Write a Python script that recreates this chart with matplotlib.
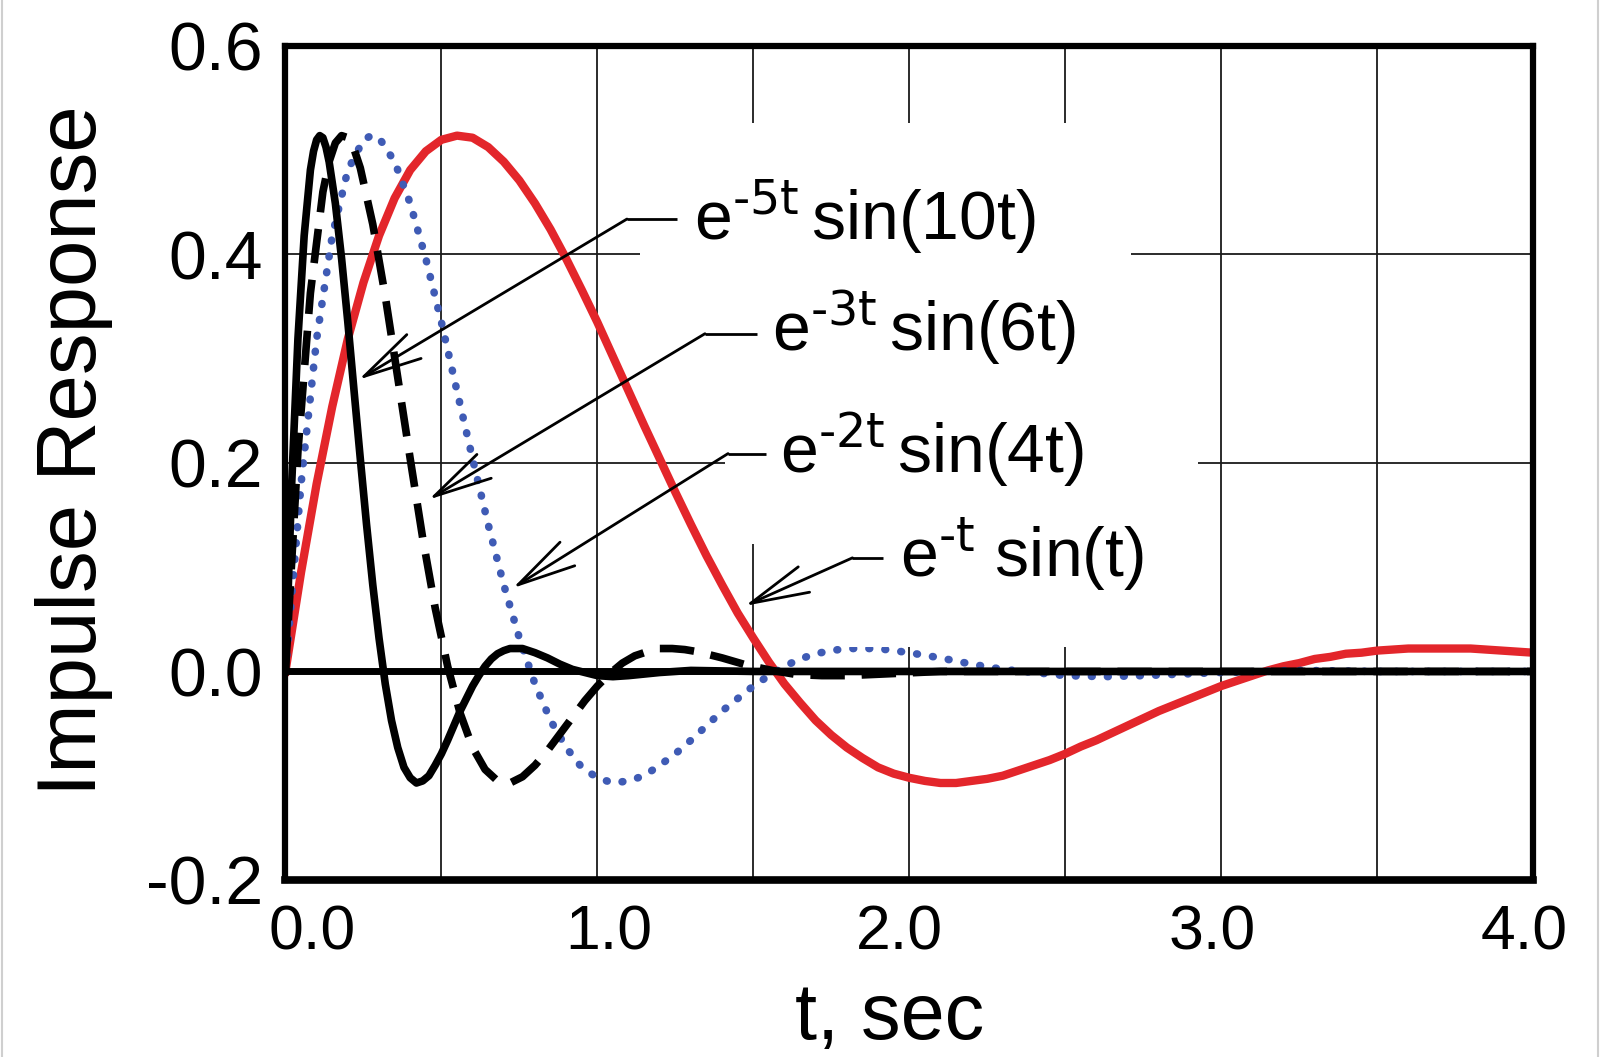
import matplotlib
matplotlib.use('Agg')
import matplotlib.pyplot as plt
from matplotlib.lines import Line2D
from matplotlib.transforms import ScaledTranslation

plt.rcParams['font.family'] = ['Liberation Sans', 'DejaVu Sans']
plt.rcParams['mathtext.default'] = 'regular'
plt.rcParams['axes.unicode_minus'] = False

# values
t_solid = [0.00, 0.02, 0.04, 0.06, 0.08, 0.09, 0.10, 0.11, 0.12, 0.13, 0.14, 0.16, 0.18, 0.20,
           0.22, 0.24, 0.26, 0.28, 0.30, 0.32, 0.34, 0.36, 0.38, 0.40,
           0.42, 0.44, 0.46, 0.48, 0.50, 0.52, 0.54, 0.56, 0.58, 0.60,
           0.62, 0.64, 0.66, 0.68, 0.70, 0.72, 0.74, 0.76, 0.78, 0.80,
           0.84, 0.88, 0.92, 0.96, 1.00, 1.05, 1.10, 1.20, 1.30, 1.50,
           2.00, 3.00, 4.00]
y_solid = [0.000, 0.180, 0.319, 0.418, 0.481, 0.499, 0.510, 0.514, 0.512, 0.503, 0.489, 0.449, 0.396, 0.335,
           0.269, 0.204, 0.141, 0.083, 0.032, -0.012, -0.047, -0.073, -0.092, -0.102,
           -0.107, -0.105, -0.100, -0.090, -0.079, -0.066, -0.052, -0.038, -0.026, -0.014,
           -0.004, 0.005, 0.012, 0.017, 0.020, 0.022, 0.022, 0.022, 0.020, 0.018,
           0.013, 0.007, 0.002, -0.001, -0.004, -0.005, -0.004, -0.001, 0.001, 0.000,
           0.000, 0.000, 0.000]

t_dash = [0.00, 0.04, 0.08, 0.12, 0.14, 0.16, 0.18, 0.20, 0.22, 0.24, 0.28, 0.32, 0.36, 0.40,
          0.44, 0.48, 0.52, 0.56, 0.60, 0.64, 0.68, 0.72, 0.76, 0.80,
          0.84, 0.88, 0.92, 0.96, 1.00, 1.04, 1.08, 1.12, 1.16, 1.20,
          1.24, 1.28, 1.32, 1.36, 1.40, 1.48, 1.56, 1.64, 1.72, 1.80,
          1.95, 2.10, 2.50, 3.00, 4.00]
y_dash = [0.000, 0.211, 0.363, 0.460, 0.489, 0.507, 0.514, 0.512, 0.501, 0.483, 0.429, 0.360, 0.282, 0.204,
          0.128, 0.061, 0.005, -0.040, -0.073, -0.094, -0.105, -0.107, -0.101, -0.090,
          -0.076, -0.060, -0.044, -0.028, -0.014, -0.002, 0.008, 0.015, 0.019, 0.022,
          0.022, 0.021, 0.019, 0.016, 0.013, 0.006, 0.001, -0.003, -0.004, -0.004,
          -0.002, 0.000, 0.000, 0.000, 0.000]

t_dot = [0.00, 0.05, 0.10, 0.15, 0.20, 0.25, 0.275, 0.30, 0.35, 0.40, 0.45, 0.50,
         0.55, 0.60, 0.65, 0.70, 0.75, 0.80, 0.85, 0.90, 0.95, 1.00,
         1.05, 1.10, 1.15, 1.20, 1.25, 1.30, 1.35, 1.40, 1.45, 1.50,
         1.55, 1.60, 1.65, 1.70, 1.75, 1.80, 1.85, 1.90, 1.95, 2.00,
         2.10, 2.20, 2.30, 2.40, 2.50, 2.625, 2.75, 3.00, 3.25, 3.50, 4.00]
y_dot = [0.000, 0.180, 0.319, 0.418, 0.481, 0.510, 0.514, 0.512, 0.489, 0.449, 0.396, 0.335,
         0.269, 0.204, 0.141, 0.083, 0.032, -0.012, -0.047, -0.073, -0.092, -0.102,
         -0.107, -0.105, -0.100, -0.090, -0.079, -0.066, -0.052, -0.038, -0.026, -0.014,
         -0.004, 0.005, 0.012, 0.017, 0.020, 0.022, 0.022, 0.022, 0.020, 0.018,
         0.013, 0.007, 0.002, -0.001, -0.004, -0.005, -0.004, -0.001, 0.001, 0.000, 0.000]

t_red = [0.00, 0.05, 0.10, 0.15, 0.20, 0.25, 0.30, 0.35, 0.40, 0.45,
         0.50, 0.55, 0.60, 0.65, 0.70, 0.75, 0.80, 0.85, 0.90, 0.95,
         1.00, 1.05, 1.10, 1.15, 1.20, 1.25, 1.30, 1.35, 1.40, 1.45,
         1.50, 1.55, 1.60, 1.65, 1.70, 1.75, 1.80, 1.85, 1.90, 1.95,
         2.00, 2.05, 2.10, 2.15, 2.20, 2.25, 2.30, 2.35, 2.40, 2.45,
         2.50, 2.55, 2.60, 2.65, 2.70, 2.75, 2.80, 2.85, 2.90, 2.95,
         3.00, 3.05, 3.10, 3.15, 3.20, 3.25, 3.30, 3.35, 3.40, 3.45,
         3.50, 3.55, 3.60, 3.65, 3.70, 3.75, 3.80, 3.85, 3.90, 3.95, 4.00]
y_red = [0.000, 0.095, 0.180, 0.254, 0.319, 0.373, 0.418, 0.454, 0.481, 0.499,
         0.510, 0.514, 0.512, 0.503, 0.489, 0.471, 0.449, 0.424, 0.396, 0.366,
         0.335, 0.302, 0.269, 0.236, 0.204, 0.172, 0.141, 0.111, 0.083, 0.056,
         0.032, 0.009, -0.012, -0.030, -0.047, -0.061, -0.073, -0.083, -0.092, -0.098,
         -0.102, -0.105, -0.107, -0.107, -0.105, -0.103, -0.100, -0.095, -0.090, -0.085,
         -0.079, -0.072, -0.066, -0.059, -0.052, -0.045, -0.038, -0.032, -0.026, -0.020,
         -0.014, -0.009, -0.004, 0.001, 0.005, 0.008, 0.012, 0.014, 0.017, 0.018,
         0.020, 0.021, 0.022, 0.022, 0.022, 0.022, 0.022, 0.021, 0.020, 0.019, 0.018]

x_ticks = [0, 1, 2, 3, 4]
x_labels = ['0.0', '1.0', '2.0', '3.0', '4.0']
x_label_shift = [19, 8, -7, -6.5, -6.5]   # points, labels sit a little off their ticks
x_minor = [0.5, 1.5, 2.5, 3.5]
y_ticks = [-0.2, 0.0, 0.2, 0.4, 0.6]
y_labels = ['-0.2', '0.0', '0.2', '0.4', '0.6']

labels = [r'e$^{\text{-5t}}\,$sin(10t)', r'e$^{\text{-3t}}\,$sin(6t)',
          r'e$^{\text{-2t}}\,$sin(4t)', r'e$^{\text{-t}}$ sin(t)']
# text start, leader corner, end of horizontal stub, arrow tip
label_pos = [(1.31, 0.414), (1.56, 0.307), (1.585, 0.190), (1.97, 0.091)]
corners = [(1.095, 0.434), (1.345, 0.324), (1.419, 0.209), (1.818, 0.109)]
stub_end = [1.255, 1.512, 1.541, 1.916]
tips = [(0.235, 0.28), (0.46, 0.165), (0.729, 0.08), (1.474, 0.063)]

fig = plt.figure(figsize=(16.1, 10.57), dpi=100)
ax = fig.add_axes([0.1773, 0.1675, 0.7749, 0.789])

ax.plot(t_red, y_red, color='#e3262b', lw=6, zorder=2)
ax.plot(t_dot, y_dot, color='#3f5bb5', lw=5.5, ls=(0, (0.1, 2.0)),
        dash_capstyle='round', zorder=2.1)
ax.axhline(0, color='k', lw=5, zorder=2.5)
ax.plot(t_dash, y_dash, color='k', lw=5.5, ls=(0, (4.5, 2.2)), zorder=2.6)
ax.plot(t_solid, y_solid, color='k', lw=5.5, zorder=2.7)

ax.set_xlim(0, 4)
ax.set_ylim(-0.2, 0.6)
ax.set_xticks(x_ticks)
ax.set_xticklabels(x_labels)
ax.set_xticks(x_minor, minor=True)
ax.set_yticks(y_ticks)
ax.set_yticklabels(y_labels)
ax.tick_params(which='both', length=0)
ax.tick_params(axis='x', pad=17, labelsize=45)
ax.tick_params(axis='y', pad=16, labelsize=49)
for lab, dx in zip(ax.get_xticklabels(), x_label_shift):
    lab.set_transform(lab.get_transform() + ScaledTranslation(dx / 72, 0, fig.dpi_scale_trans))
ax.set_axisbelow(True)
ax.grid(True, which='both', axis='x', color='#1a1a1a', lw=1.3)
ax.grid(True, which='major', axis='y', color='#1a1a1a', lw=1.3)
for s in ax.spines.values():
    s.set_linewidth(4.5)
ax.spines['bottom'].set_linewidth(5.5)

ax.set_ylabel('Impulse Response', fontsize=60)
ax.yaxis.set_label_coords(-0.138, 0.515)
ax.set_xlabel('t, sec', fontsize=57)
ax.xaxis.set_label_coords(0.484, -0.121)

for i in range(len(labels)):
    # white patch behind the label hides the grid lines
    ax.text(label_pos[i][0], label_pos[i][1], labels[i], fontsize=49, color='none',
            ha='left', va='baseline', zorder=3,
            bbox=dict(facecolor='white', edgecolor='none', boxstyle='square,pad=0.8'))
for i in range(len(labels)):
    ax.text(label_pos[i][0], label_pos[i][1], labels[i], fontsize=49,
            ha='left', va='baseline', zorder=3.5)
    ax.plot([corners[i][0], stub_end[i]], [corners[i][1], corners[i][1]],
            color='k', lw=2, zorder=4, solid_capstyle='butt')
    ax.annotate('', xy=tips[i], xytext=corners[i], zorder=4,
                arrowprops=dict(arrowstyle='->,head_length=2.1,head_width=0.5',
                                color='k', lw=2, shrinkA=0, shrinkB=0,
                                mutation_scale=20))

# thin grey frame seen at the picture edges
fig.add_artist(Line2D([0.0012, 0.0012], [0, 1], color='#cfcfcf', lw=1.5,
                      transform=fig.transFigure))
fig.add_artist(Line2D([0.9925, 0.9925], [0, 1], color='#cfcfcf', lw=1.5,
                      transform=fig.transFigure))

fig.savefig('out.png', dpi=100)
